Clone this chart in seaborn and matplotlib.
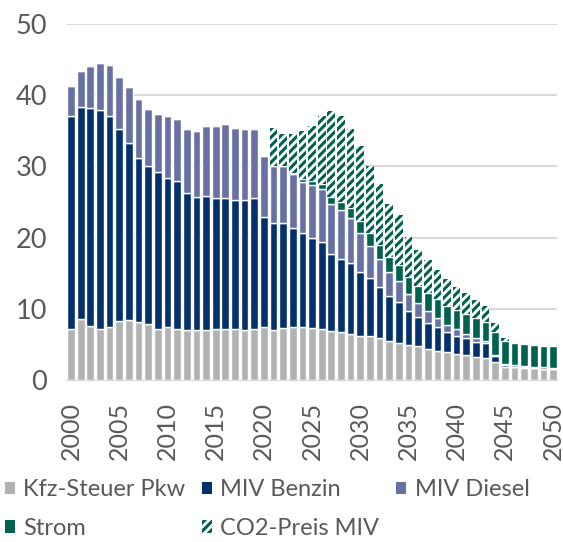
import numpy as np
import pandas as pd
import matplotlib
matplotlib.use("Agg")
import matplotlib.pyplot as plt
from matplotlib.patches import Patch
import seaborn as sns

# ---------------------------
# data (Mrd. EUR)
# ---------------------------
years = list(range(2000, 2051))

kfz_steuer = [7.2, 8.5, 7.6, 7.2, 7.5, 8.3, 8.4, 8.2, 7.9, 7.2,
              7.4, 7.2, 7.0, 7.0, 7.0, 7.1, 7.2, 7.1, 7.0, 7.2,
              7.4, 7.0, 7.3, 7.4, 7.4, 7.3, 7.1, 6.9, 6.7, 6.5,
              6.2, 6.1, 5.85, 5.5, 5.25, 4.9, 4.7, 4.3, 4.1, 3.9,
              3.65, 3.5, 3.2, 3.05, 2.45, 1.8, 1.75, 1.7, 1.65, 1.6,
              1.6]
miv_benzin = [29.9, 29.8, 30.6, 30.7, 29.5, 27.0, 24.9, 23.0, 22.2, 22.0,
              21.0, 20.7, 19.3, 18.7, 18.8, 18.5, 18.3, 18.1, 18.3, 18.3,
              15.5, 15.0, 14.7, 13.9, 13.3, 12.7, 12.3, 10.8, 10.3, 9.9,
              9.0, 8.2, 7.15, 6.3, 5.75, 4.8, 4.1, 3.75, 3.3, 2.8,
              2.55, 2.35, 2.1, 2.1, 0.95, 0.3, 0.1, 0.05, 0.05, 0.0,
              0.0]
miv_diesel = [4.2, 5.1, 5.9, 6.6, 7.2, 7.3, 7.8, 8.2, 7.9, 8.2,
              8.6, 8.7, 8.9, 9.3, 9.9, 10.1, 10.5, 10.2, 10.0, 9.8,
              8.5, 8.1, 8.0, 7.6, 7.15, 7.4, 7.4, 7.0, 6.8, 6.3,
              5.5, 4.5, 4.0, 3.3, 2.95, 2.3, 2.0, 1.65, 1.25, 1.0,
              0.9, 0.6, 0.65, 0.25, 0.05, 0.2, 0.2, 0.2, 0.15, 0.15,
              0.1]
strom = [0] * 23 + [0.2, 0.3, 0.5, 0.7, 1.0, 1.2, 1.5,
                    1.6, 1.9, 1.9, 2.2, 2.2, 2.4, 2.4, 2.5, 2.65, 2.7,
                    2.7, 2.8, 2.8, 2.8, 3.25, 3.1, 3.1, 3.1, 3.05, 3.05,
                    3.0]
co2_preis = [0] * 21 + [5.3, 4.5, 5.5, 6.75, 7.7, 9.6, 12.1, 12.1, 11.0,
                        10.5, 9.4, 8.6, 7.4, 7.05, 5.7, 5.1, 4.65, 4.15, 3.8,
                        3.3, 2.95, 2.45, 2.2, 1.35, 0.55, 0, 0, 0, 0,
                        0]

series = ["Kfz-Steuer Pkw", "MIV Benzin", "MIV Diesel", "Strom", "CO2-Preis MIV"]
colors = ["#b2b2b2", "#04316b", "#6771a4", "#00614f", "#00614f"]

df = pd.DataFrame({"Jahr": years, series[0]: kfz_steuer, series[1]: miv_benzin,
                   series[2]: miv_diesel, series[3]: strom, series[4]: co2_preis})

# ---------------------------
# style
# ---------------------------
sns.set_style("white")
plt.rcParams["font.family"] = ["Lato", "DejaVu Sans"]
plt.rcParams["hatch.linewidth"] = 2.2
txt = "#595959"

fig = plt.figure(figsize=(5.63, 5.42), dpi=100)
ax = fig.add_axes([0.1185, 0.299, 0.871, 0.657])

bottom = np.zeros(len(years))
for name, col in zip(series, colors):
    if name == "CO2-Preis MIV":
        sns.barplot(data=df, x="Jahr", y=name, ax=ax, color="white", saturation=1,
                    errorbar=None, width=0.8, bottom=bottom, hatch="////",
                    edgecolor=col, linewidth=0, zorder=3)
    else:
        sns.barplot(data=df, x="Jahr", y=name, ax=ax, color=col, saturation=1,
                    errorbar=None, width=0.8, bottom=bottom,
                    edgecolor="white", linewidth=1, zorder=3)
    bottom = bottom + df[name].to_numpy()

ax.set_ylim(0, 50)
ax.set_xlim(-0.45, 50.42)
ax.set_yticks(range(0, 51, 10))
ax.set_xticks(range(0, 51, 5))
ax.set_xticklabels([str(y) for y in years[::5]], rotation=90)
ax.set_xlabel("")
ax.set_ylabel("")
ax.tick_params(axis="both", length=0, colors=txt)
ax.tick_params(axis="y", pad=14, labelsize=19.5)
ax.tick_params(axis="x", pad=16, labelsize=18)

ax.yaxis.grid(True, color="#d9d9d9", linewidth=1.5, zorder=0)
ax.set_axisbelow(True)
for s in ["left", "right", "top"]:
    ax.spines[s].set_visible(False)
ax.spines["bottom"].set_color("#d9d9d9")
ax.spines["bottom"].set_linewidth(1.5)

# legend, filled row by row
h = [Patch(facecolor=c, edgecolor="none") for c in colors[:4]]
h.append(Patch(facecolor="white", edgecolor=colors[4], linewidth=0, hatch="////"))
order = [0, 3, 1, 4, 2]
leg = fig.legend([h[i] for i in order], [series[i] for i in order],
                 loc="upper left", bbox_to_anchor=(0.008, 0.116), ncol=3,
                 frameon=False, fontsize=17, handlelength=0.43, handleheight=0.43,
                 handletextpad=0.36, columnspacing=0.7, labelspacing=0.75,
                 borderaxespad=0.0, borderpad=0.0)
for t in leg.get_texts():
    t.set_color(txt)

fig.savefig("out.png", dpi=100)
